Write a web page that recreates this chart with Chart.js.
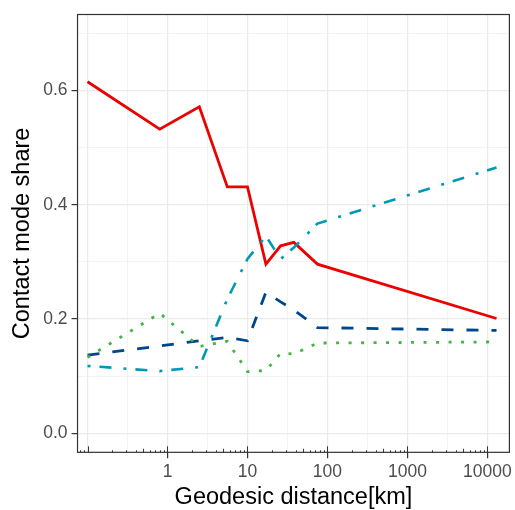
<!DOCTYPE html>
<html>
<head>
<meta charset="utf-8">
<script src="https://cdn.jsdelivr.net/npm/chart.js@4.4.1/dist/chart.umd.min.js"></script>
<style>
  html, body { margin: 0; padding: 0; background: #ffffff; }
  #wrap { width: 515px; height: 510px; }
</style>
</head>
<body>
<div id="wrap"><canvas id="chart" width="515" height="510"></canvas></div>
<script>
// distance bins (km)
const distances = [0.1, 0.8, 2.5, 5.6, 10, 17, 26, 38, 75, 13000]

// contact mode shares per bin
const redShare = [0.615, 0.532, 0.571, 0.431, 0.431, 0.296, 0.328, 0.334, 0.296, 0.201]
const blueShare = [0.137, 0.153, 0.162, 0.168, 0.162, 0.247, 0.230, 0.216, 0.185, 0.180]
const greenShare = [0.133, 0.210, 0.152, 0.161, 0.108, 0.110, 0.140, 0.139, 0.158, 0.160]
const cyanShare = [0.118, 0.109, 0.116, 0.235, 0.305, 0.345, 0.305, 0.325, 0.367, 0.465]

const xGrid = [0.1, 0.3162, 1, 3.162, 10, 31.62, 100, 316.2, 1000, 3162, 10000]
const xLabels = [1, 10, 100, 1000, 10000]
const yGrid = [0, 0.1, 0.2, 0.3, 0.4, 0.5, 0.6, 0.7]
const yLabels = [0, 0.2, 0.4, 0.6]

const fontFamily = '"Liberation Sans", Arial, sans-serif'

function toPoints(values) {
    return distances.map((d, i) => ({ x: d, y: values[i] }))
}

function isIn(list, v) {
    return list.some((l) => Math.abs(l - v) < 1e-6 * Math.max(1, l))
}

// panel border + annotation_logticks style marks along the bottom
const decoPlugin = {
    id: 'deco',
    afterDraw(chart) {
        const { ctx, chartArea: a, scales } = chart
        const x = scales.x
        ctx.save()
        ctx.strokeStyle = '#333333'
        ctx.lineWidth = 1
        for (let e = -2; e <= 4; e++) {
            for (let m = 1; m <= 9; m++) {
                const px = x.getPixelForValue(m * Math.pow(10, e))
                if (px < a.left || px > a.right) continue
                const len = m === 1 ? 6 : (m === 5 ? 3.5 : 2)
                ctx.beginPath()
                ctx.moveTo(Math.round(px) + 0.5, a.bottom)
                ctx.lineTo(Math.round(px) + 0.5, a.bottom - len)
                ctx.stroke()
            }
        }
        ctx.lineWidth = 1.2
        ctx.strokeRect(a.left, a.top, a.right - a.left, a.bottom - a.top)
        ctx.restore()
    }
}

const config = {
    type: 'line',
    data: {
        datasets: [
            {
                label: 'cyan',
                data: toPoints(cyanShare),
                borderColor: '#0099B4',
                borderWidth: 2.6,
                borderDash: [3, 9, 12, 12],
                pointRadius: 0,
                tension: 0
            },
            {
                label: 'green',
                data: toPoints(greenShare),
                borderColor: '#42B540',
                borderWidth: 2.8,
                borderDash: [3, 9.5],
                pointRadius: 0,
                tension: 0
            },
            {
                label: 'red',
                data: toPoints(redShare),
                borderColor: '#ED0000',
                borderWidth: 2.8,
                pointRadius: 0,
                tension: 0
            },
            {
                label: 'blue',
                data: toPoints(blueShare),
                borderColor: '#00468B',
                borderWidth: 2.8,
                borderDash: [12, 13],
                pointRadius: 0,
                tension: 0
            }
        ]
    },
    options: {
        responsive: false,
        animation: false,
        devicePixelRatio: 1,
        layout: { padding: { top: 13, right: 5, left: 8, bottom: 0 } },
        plugins: {
            legend: { display: false },
            tooltip: { enabled: false }
        },
        scales: {
            x: {
                type: 'logarithmic',
                min: 0.075,
                max: 18836,
                afterBuildTicks: (scale) => {
                    scale.ticks = xGrid.map((v) => ({ value: v }))
                },
                grid: {
                    color: '#EBEBEB',
                    lineWidth: (c) => (c.tick && isIn(xLabels.concat([0.1]), c.tick.value) ? 1.2 : 0.6),
                    tickLength: 6,
                    tickColor: (c) => (c.tick && isIn(xLabels, c.tick.value) ? '#333333' : 'rgba(0,0,0,0)'),
                    tickWidth: 1.2
                },
                border: { display: false },
                ticks: {
                    autoSkip: false,
                    maxRotation: 0,
                    padding: 3,
                    color: '#4D4D4D',
                    font: { family: fontFamily, size: 17.5 },
                    callback: (value) => (isIn(xLabels, value) ? String(Math.round(value)) : '')
                },
                title: {
                    display: true,
                    text: 'Geodesic distance[km]',
                    color: '#000000',
                    font: { family: fontFamily, size: 23.5, lineHeight: 1.05 },
                    padding: { top: 0, bottom: 0 }
                }
            },
            y: {
                min: -0.0331,
                max: 0.7326,
                afterBuildTicks: (scale) => {
                    scale.ticks = yGrid.map((v) => ({ value: v }))
                },
                grid: {
                    color: '#EBEBEB',
                    lineWidth: (c) => (c.tick && isIn(yLabels, c.tick.value) ? 1.2 : 0.6),
                    tickLength: 6,
                    tickColor: (c) => (c.tick && isIn(yLabels, c.tick.value) ? '#333333' : 'rgba(0,0,0,0)'),
                    tickWidth: 1.2
                },
                border: { display: false },
                ticks: {
                    padding: 4,
                    color: '#4D4D4D',
                    font: { family: fontFamily, size: 17.5 },
                    callback: (value) => (isIn(yLabels, value) ? value.toFixed(1) : '')
                },
                title: {
                    display: true,
                    text: 'Contact mode share',
                    color: '#000000',
                    font: { family: fontFamily, size: 23.5 },
                    padding: { top: 0, bottom: 3 }
                }
            }
        }
    },
    plugins: [decoPlugin]
}

new Chart(document.getElementById('chart'), config)
</script>
</body>
</html>
